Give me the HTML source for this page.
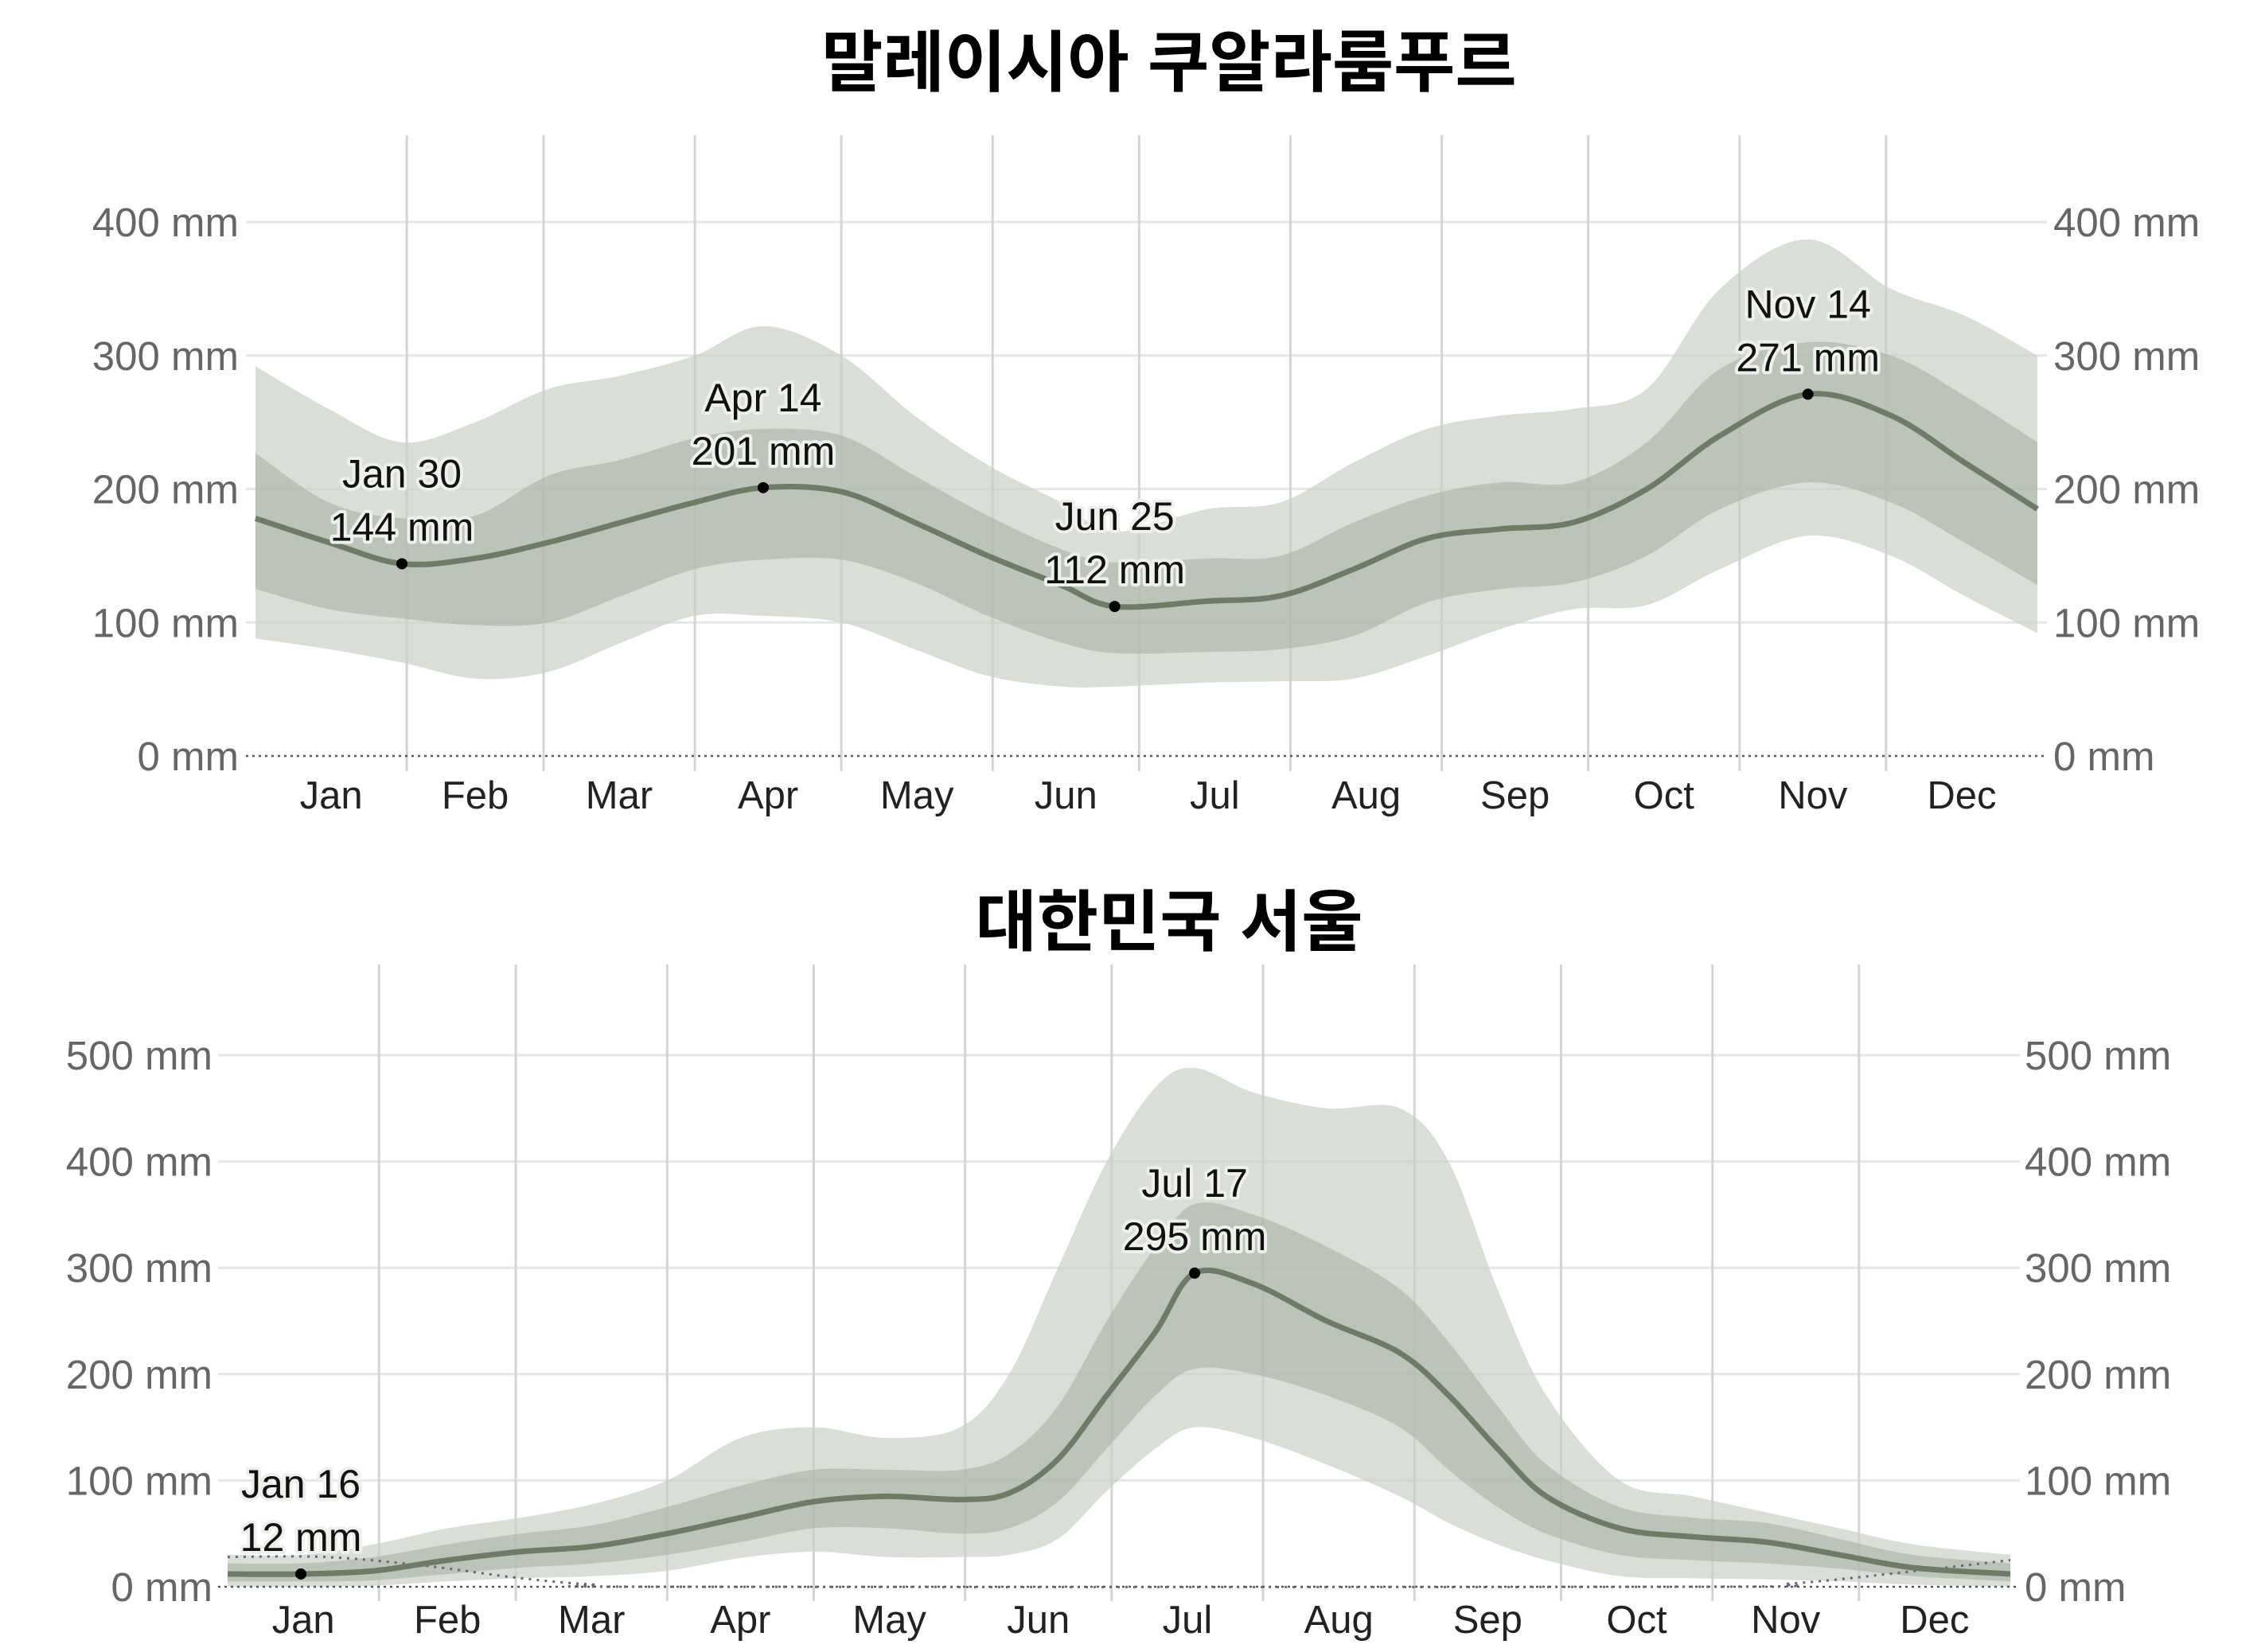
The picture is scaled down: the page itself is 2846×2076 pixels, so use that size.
<!DOCTYPE html>
<html><head><meta charset="utf-8">
<style>
html,body{margin:0;padding:0;background:#fff;}
svg{display:block;}
text{font-family:"Liberation Sans","Noto Sans CJK KR",sans-serif;}
.tick{fill:#666;font-size:51px;}
.mon{fill:#222;font-size:49px;}
.title{font-size:84px;font-weight:bold;fill:#000;font-family:"Liberation Sans","Noto Sans CJK KR",sans-serif;}
.ann{font-size:50px;fill:#111;paint-order:stroke;stroke:#eef0ec;stroke-width:8px;stroke-linejoin:round;}
</style></head>
<body>
<svg id="chart" width="2846" height="2076" viewBox="0 0 2846 2076" xmlns="http://www.w3.org/2000/svg">
<text class="title" x="1469" y="108" text-anchor="middle">말레이시아 쿠알라룸푸르</text>
<text class="title" x="1469" y="1188" text-anchor="middle">대한민국 서울</text>
<g id="top"></g>
<g id="bot"></g>
</svg>
<script>
const months = ["Jan","Feb","Mar","Apr","May","Jun","Jul","Aug","Sep","Oct","Nov","Dec"];
const monthStarts = [0,31,59,90,120,151,181,212,243,273,304,334,365];

const klDays = [0,15,30,45,60,75,90,104,120,135,150,165,176,195,210,225,240,255,270,285,300,318,335,350,365];
const klMedian = [178,160,144,148,160,175,190,201,198,175,150,128,112,116,120,140,163,170,175,200,240,271,255,220,185];
const klP25 = [125,110,103,98,100,120,140,147,147,130,105,85,77,78,80,90,115,125,130,150,185,205,190,160,128];
const klP75 = [227,190,178,180,210,222,238,245,240,210,180,155,145,148,150,175,195,205,205,235,290,310,300,270,235];
const klP10 = [88,80,70,58,63,85,105,105,100,80,60,52,52,55,56,58,75,95,110,113,140,165,150,120,92];
const klP90 = [292,260,235,250,275,285,300,322,300,255,218,190,168,185,190,220,245,255,260,275,350,387,350,330,300];
const klTicks = [0,100,200,300,400];
const klAnnDays = [30,104,176,318];
const klAnnLabels = ["Jan 30","Apr 14","Jun 25","Nov 14"];
const klAnnValues = [144,201,112,271];

const seDays = [0,15,30,45,60,75,90,105,120,135,150,160,170,180,190,198,210,225,240,250,260,270,285,300,315,330,345,365];
const seMedian = [12,12,15,25,33,38,50,65,80,85,82,88,120,180,240,295,285,250,220,180,130,85,55,47,42,30,18,12];
const seP25 = [5,5,6,12,18,22,30,42,55,55,50,55,80,130,180,205,200,180,150,110,75,50,30,25,22,17,10,5];
const seP75 = [22,22,28,40,50,58,75,95,110,110,110,125,170,250,320,360,350,320,280,230,170,115,75,65,60,45,30,22];
const seP10 = [0,0,1,5,8,10,15,27,33,28,28,30,45,90,130,150,140,115,85,60,40,25,10,8,7,5,2,0];
const seP90 = [30,30,40,55,65,78,100,140,150,140,150,200,300,400,470,488,465,450,450,400,280,180,100,85,70,55,40,30];
const seSnowDays = [0,20,40,60,75,90,300,320,340,365];
const seSnow = [28,28,20,8,2,0,0,3,12,25];
const seTicks = [0,100,200,300,400,500];
const seAnnDays = [15,198];
const seAnnLabels = ["Jan 16","Jul 17"];
const seAnnValues = [12,295];

const NS = "http://www.w3.org/2000/svg";
function mk(parent, tag, attrs){const e=document.createElementNS(NS,tag);for(const k in attrs)e.setAttribute(k,attrs[k]);parent.appendChild(e);return e;}
function curveSegs(pts){
  let d="";
  for(let i=0;i<pts.length-1;i++){
    const p0=pts[Math.max(0,i-1)],p1=pts[i],p2=pts[i+1],p3=pts[Math.min(pts.length-1,i+2)];
    const c1=[p1[0]+(p2[0]-p0[0])/6,p1[1]+(p2[1]-p0[1])/6];
    const c2=[p2[0]-(p3[0]-p1[0])/6,p2[1]-(p3[1]-p1[1])/6];
    d+="C"+c1[0].toFixed(1)+","+c1[1].toFixed(1)+" "+c2[0].toFixed(1)+","+c2[1].toFixed(1)+" "+p2[0].toFixed(1)+","+p2[1].toFixed(1);
  }
  return d;
}
function smooth(pts){return "M"+pts[0][0].toFixed(1)+","+pts[0][1].toFixed(1)+curveSegs(pts);}
function band(days,lo,hi,X,Y){
  const up=days.map((d,i)=>[X(d),Y(hi[i])]);
  const dn=days.map((d,i)=>[X(d),Y(lo[i])]).reverse();
  return smooth(up)+"L"+dn[0][0].toFixed(1)+","+dn[0][1].toFixed(1)+curveSegs(dn)+"Z";
}
function draw(g,cfg){
  const X=d=>cfg.x0+(cfg.x1-cfg.x0)*d/365;
  const Y=v=>cfg.y0-(cfg.y0-cfg.yTop)*v/cfg.vTop;
  cfg.ticks.forEach(t=>{
    const l=mk(g,"line",{x1:X(0)-12,x2:X(365)+12,y1:Y(t),y2:Y(t),stroke:t===0?"none":"#e6e6e6","stroke-width":3});
    
    
    const a=mk(g,"text",{x:cfg.lx,y:Y(t)+18,"text-anchor":"end",class:"tick"});a.textContent=t+" mm";
    
    
    const b=mk(g,"text",{x:cfg.rx,y:Y(t)+18,"text-anchor":"start",class:"tick"});b.textContent=t+" mm";
    
    
  });
  monthStarts.slice(1,12).forEach(m=>{
    const l=mk(g,"line",{x1:X(m),x2:X(m),y1:cfg.gTop,y2:cfg.gBot,stroke:"#d4d4d4","stroke-width":3});
    
    
  });
  const o=mk(g,"path",{d:band(cfg.days,cfg.p10,cfg.p90,X,Y),fill:"#c9d0c6","fill-opacity":0.7});
  
  
  const inn=mk(g,"path",{d:band(cfg.days,cfg.p25,cfg.p75,X,Y),fill:"#a9b3a5","fill-opacity":0.6});
  
  
  const z=mk(g,"line",{x1:X(0)-12,x2:X(365)+12,y1:Y(0),y2:Y(0),stroke:"#556","stroke-width":2.5,"stroke-dasharray":"3,5"});
  
  
  if(cfg.snowDays){
    const s=mk(g,"path",{d:smooth(cfg.snowDays.map((d,i)=>[X(d),Y(cfg.snow[i])])),fill:"none",stroke:"#667","stroke-width":3,"stroke-dasharray":"3,7"});
    
    
  }
  const ln=mk(g,"path",{d:smooth(cfg.days.map((d,i)=>[X(d),Y(cfg.med[i])])),fill:"none",stroke:"#6e7b66","stroke-width":7});
  
  
  cfg.annDays.forEach((d,i)=>{
    const c=mk(g,"circle",{cx:X(d),cy:Y(cfg.annVals[i]),r:7,fill:"#000"});
    
    
    const t1=mk(g,"text",{x:X(d),y:Y(cfg.annVals[i])-96,"text-anchor":"middle",class:"ann"});t1.textContent=cfg.annLabels[i];
    
    
    const t2=mk(g,"text",{x:X(d),y:Y(cfg.annVals[i])-29,"text-anchor":"middle",class:"ann"});t2.textContent=cfg.annVals[i]+" mm";
    
    
  });
  months.forEach((m,i)=>{
    const t=mk(g,"text",{x:X((monthStarts[i]+monthStarts[i+1])/2),y:cfg.my,"text-anchor":"middle",class:"mon"});t.textContent=m;
    
    
  });
}
draw(document.getElementById("top"),{x0:321,x1:2560,y0:950,yTop:279,vTop:400,ticks:klTicks,lx:300,rx:2580,gTop:170,gBot:969,my:1016,
  days:klDays,med:klMedian,p25:klP25,p75:klP75,p10:klP10,p90:klP90,annDays:klAnnDays,annLabels:klAnnLabels,annVals:klAnnValues});
draw(document.getElementById("bot"),{x0:286,x1:2526,y0:1994,yTop:1326,vTop:500,ticks:seTicks,lx:267,rx:2544,gTop:1212,gBot:2012,my:2052,
  days:seDays,med:seMedian,p25:seP25,p75:seP75,p10:seP10,p90:seP90,annDays:seAnnDays,annLabels:seAnnLabels,annVals:seAnnValues,
  snowDays:seSnowDays,snow:seSnow});
</script>
</body></html>
